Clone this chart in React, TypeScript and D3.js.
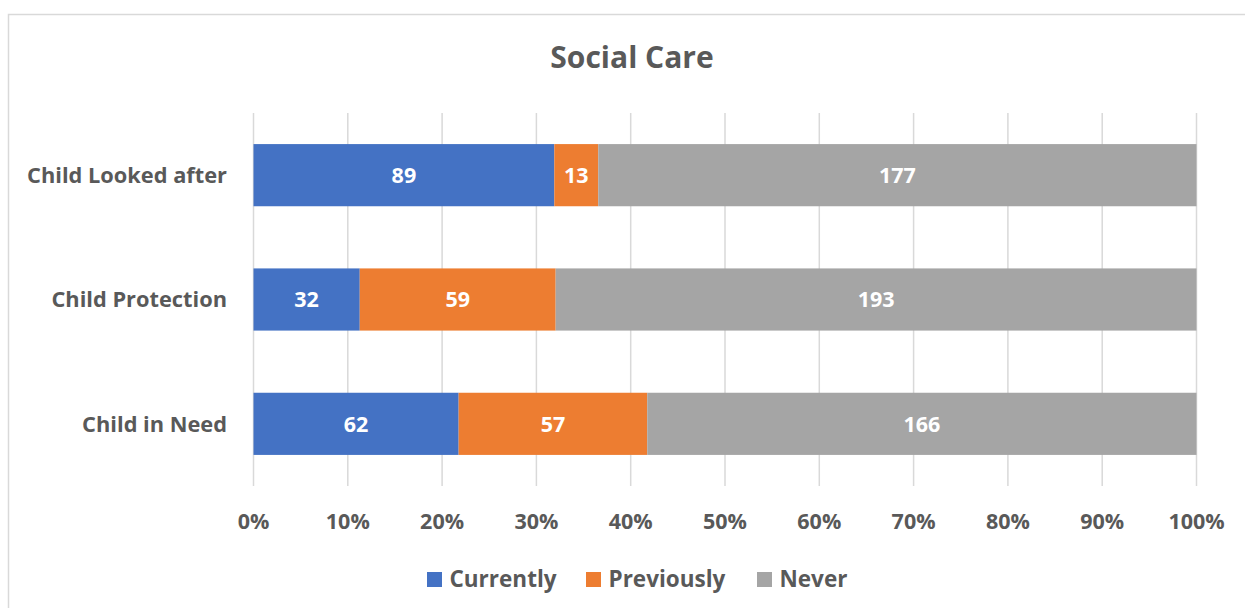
import React from "react";
import * as d3 from "d3";

const categories = ["Child Looked after", "Child Protection", "Child in Need"];
const seriesNames = ["Currently", "Previously", "Never"];
const currently = [89, 32, 62];
const previously = [13, 59, 57];
const never = [177, 193, 166];
const colors = ["#4472C4", "#ED7D31", "#A5A5A5"];
const tickValues = [0, 0.1, 0.2, 0.3, 0.4, 0.5, 0.6, 0.7, 0.8, 0.9, 1];
const title = "Social Care";

const W = 1245;
const H = 608;
const FONT = "'Open Sans', sans-serif";
const TEXT = "#595959";

export default function App() {
  const x = d3.scaleLinear().domain([0, 1]).range([253.5, 1196.5]);
  const y = d3.scaleBand().domain(categories).range([113, 486]).paddingInner(0.5).paddingOuter(0.25);

  const rows = categories.map((c, i) => {
    const vals = [currently[i], previously[i], never[i]];
    const total = d3.sum(vals);
    let acc = 0;
    return vals.map((v, j) => {
      const x0 = acc / total;
      acc += v;
      const x1 = acc / total;
      return { cat: c, v, x0, x1, j };
    });
  });

  const legendItems = [
    { name: seriesNames[0], x: 427 },
    { name: seriesNames[1], x: 586 },
    { name: seriesNames[2], x: 757 },
  ];

  return (
    <svg width={W} height={H} style={{ position: "absolute", left: 0, top: 0, background: "#fff" }}>
      <rect x={8.5} y={14.5} width={W + 10} height={H + 10} fill="#fff" stroke="#D9D9D9" strokeWidth={1.5} />
      <text x={632} y={68} textAnchor="middle" fontFamily={FONT} fontWeight={700} fontSize={30} fill={TEXT}>
        {title}
      </text>
      {tickValues.map((t) => (
        <line key={t} x1={x(t)} x2={x(t)} y1={113} y2={486} stroke="#D9D9D9" strokeWidth={1.5} />
      ))}
      {rows.map((segs) =>
        segs.map((s) => (
          <g key={s.cat + s.j}>
            <rect x={x(s.x0)} y={y(s.cat)!} width={x(s.x1) - x(s.x0)} height={y.bandwidth()} fill={colors[s.j]} />
            <text
              x={(x(s.x0) + x(s.x1)) / 2}
              y={y(s.cat)! + y.bandwidth() / 2}
              dy="0.36em"
              textAnchor="middle"
              fontFamily={FONT}
              fontWeight={700}
              fontSize={21.5}
              fill="#fff"
            >
              {s.v}
            </text>
          </g>
        ))
      )}
      {categories.map((c) => (
        <text
          key={c}
          x={227}
          y={y(c)! + y.bandwidth() / 2}
          dy="0.36em"
          textAnchor="end"
          fontFamily={FONT}
          fontWeight={700}
          fontSize={21.8}
          fill={TEXT}
        >
          {c}
        </text>
      ))}
      {tickValues.map((t) => (
        <text
          key={"l" + t}
          x={x(t)}
          y={521}
          dy="0.36em"
          textAnchor="middle"
          fontFamily={FONT}
          fontWeight={700}
          fontSize={21.5}
          fill={TEXT}
        >
          {d3.format(".0%")(t)}
        </text>
      ))}
      {legendItems.map((l, i) => (
        <g key={l.name}>
          <rect x={l.x} y={572} width={15} height={15} fill={colors[i]} />
          <text x={l.x + 22.5} y={579} dy="0.36em" fontFamily={FONT} fontWeight={700} fontSize={22.5} fill={TEXT}>
            {l.name}
          </text>
        </g>
      ))}
    </svg>
  );
}
